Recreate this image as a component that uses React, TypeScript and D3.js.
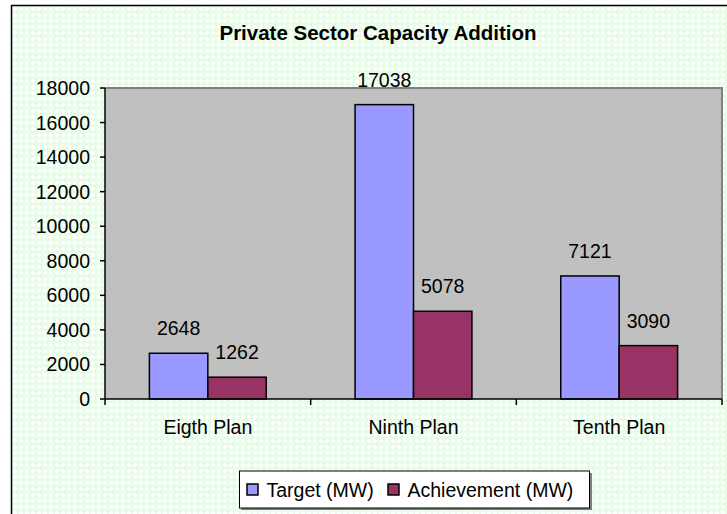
import React, { useEffect, useRef } from "react";
import * as d3 from "d3";

// chart data
const categories = ["Eigth Plan", "Ninth Plan", "Tenth Plan"];
const seriesNames = ["Target (MW)", "Achievement (MW)"];
const targetValues = [2648, 17038, 7121];
const achievementValues = [1262, 5078, 3090];
const yTicks = [0, 2000, 4000, 6000, 8000, 10000, 12000, 14000, 16000, 18000];
const colors = ["#9999ff", "#993366"];

const W = 727;
const H = 514;
const FONT = "Liberation Sans, Arial, sans-serif";

export default function App() {
  const ref = useRef<SVGSVGElement | null>(null);

  useEffect(() => {
    const svg = d3.select(ref.current);
    svg.selectAll("*").remove();

    // background pattern (light green with white crosses)
    const defs = svg.append("defs");
    const pat = defs
      .append("pattern")
      .attr("id", "bgpat")
      .attr("width", 6)
      .attr("height", 6)
      .attr("patternUnits", "userSpaceOnUse");
    pat.append("rect").attr("width", 6).attr("height", 6).attr("fill", "#e4fde4");
    pat.append("rect").attr("x", 2).attr("y", 1).attr("width", 2).attr("height", 4).attr("fill", "#ffffff");
    pat.append("rect").attr("x", 1).attr("y", 2).attr("width", 4).attr("height", 2).attr("fill", "#ffffff");
    pat.append("rect").attr("x", 0).attr("y", 0).attr("width", 1).attr("height", 1).attr("fill", "#f4fff4");

    svg
      .append("rect")
      .attr("x", 11.5)
      .attr("y", 5.5)
      .attr("width", W + 20)
      .attr("height", H + 20)
      .attr("fill", "url(#bgpat)")
      .attr("stroke", "#000")
      .attr("stroke-width", 1.5);

    // title
    svg
      .append("text")
      .attr("x", 378)
      .attr("y", 40)
      .attr("text-anchor", "middle")
      .attr("font-family", FONT)
      .attr("font-weight", "bold")
      .attr("font-size", 20.5)
      .text("Private Sector Capacity Addition");

    const plot = { left: 105, top: 88, right: 722, bottom: 399 };

    var y_scale = d3.scaleLinear().domain([0, 18000]).range([plot.bottom, plot.top]);
    var x_scale = d3
      .scaleBand()
      .domain(categories)
      .range([plot.left, plot.right])
      .paddingInner(0)
      .paddingOuter(0);
    var x_inner = d3
      .scaleBand()
      .domain(seriesNames)
      .range([0, x_scale.bandwidth()])
      .paddingInner(0)
      .paddingOuter(0.76);

    // plot area
    svg
      .append("rect")
      .attr("x", plot.left)
      .attr("y", plot.top)
      .attr("width", plot.right - plot.left)
      .attr("height", plot.bottom - plot.top)
      .attr("fill", "#c0c0c0");
    svg
      .append("path")
      .attr("d", `M${plot.left},${plot.top}H${plot.right}V${plot.bottom}`)
      .attr("fill", "none")
      .attr("stroke", "#808080")
      .attr("stroke-width", 2);

    // bars
    const data = categories.map((c, i) => ({ cat: c, vals: [targetValues[i], achievementValues[i]] }));
    const groups = svg
      .selectAll(".grp")
      .data(data)
      .join("g")
      .attr("class", "grp")
      .attr("transform", (d) => `translate(${x_scale(d.cat)},0)`);

    groups
      .selectAll("rect")
      .data((d) => d.vals.map((v, j) => ({ v, s: seriesNames[j], j })))
      .join("rect")
      .attr("x", (d) => x_inner(d.s)!)
      .attr("y", (d) => y_scale(d.v))
      .attr("width", x_inner.bandwidth())
      .attr("height", (d) => plot.bottom - y_scale(d.v))
      .attr("fill", (d) => colors[d.j])
      .attr("stroke", "#000")
      .attr("stroke-width", 1.5);

    groups
      .selectAll("text")
      .data((d) => d.vals.map((v, j) => ({ v, s: seriesNames[j] })))
      .join("text")
      .attr("x", (d) => x_inner(d.s)! + x_inner.bandwidth() / 2)
      .attr("y", (d) => y_scale(d.v) - 18)
      .attr("text-anchor", "middle")
      .attr("font-family", FONT)
      .attr("font-size", 19.5)
      .text((d) => d.v);

    // y axis
    const yAxis = svg.append("g");
    yAxis
      .append("line")
      .attr("x1", plot.left)
      .attr("x2", plot.left)
      .attr("y1", plot.top)
      .attr("y2", plot.bottom)
      .attr("stroke", "#000")
      .attr("stroke-width", 1.5);
    yTicks.forEach((t) => {
      yAxis
        .append("line")
        .attr("x1", plot.left - 5)
        .attr("x2", plot.left)
        .attr("y1", y_scale(t))
        .attr("y2", y_scale(t))
        .attr("stroke", "#000")
        .attr("stroke-width", 1.5);
      yAxis
        .append("text")
        .attr("x", plot.left - 15)
        .attr("y", y_scale(t))
        .attr("dy", "0.36em")
        .attr("text-anchor", "end")
        .attr("font-family", FONT)
        .attr("font-size", 19.5)
        .text(t);
    });

    // x axis
    const xAxis = svg.append("g");
    xAxis
      .append("line")
      .attr("x1", plot.left)
      .attr("x2", plot.right)
      .attr("y1", plot.bottom)
      .attr("y2", plot.bottom)
      .attr("stroke", "#000")
      .attr("stroke-width", 1.5);
    [0, 1, 2, 3].forEach((i) => {
      const x = plot.left + i * x_scale.step();
      xAxis
        .append("line")
        .attr("x1", x)
        .attr("x2", x)
        .attr("y1", plot.bottom)
        .attr("y2", plot.bottom + 6)
        .attr("stroke", "#000")
        .attr("stroke-width", 1.5);
    });
    categories.forEach((c) => {
      xAxis
        .append("text")
        .attr("x", x_scale(c)! + x_scale.bandwidth() / 2)
        .attr("y", 434)
        .attr("text-anchor", "middle")
        .attr("font-family", FONT)
        .attr("font-size", 19.5)
        .text(c);
    });

    // legend
    const lg = svg.append("g");
    lg.append("rect")
      .attr("x", 241)
      .attr("y", 473)
      .attr("width", 351)
      .attr("height", 37)
      .attr("fill", "#808080");
    lg.append("rect")
      .attr("x", 239.5)
      .attr("y", 471)
      .attr("width", 350)
      .attr("height", 37)
      .attr("fill", "#fff")
      .attr("stroke", "#000")
      .attr("stroke-width", 1);
    const legendX = [247, 388];
    seriesNames.forEach((s, i) => {
      lg.append("rect")
        .attr("x", legendX[i])
        .attr("y", 484)
        .attr("width", 11)
        .attr("height", 11)
        .attr("fill", colors[i])
        .attr("stroke", "#000")
        .attr("stroke-width", 1.5);
      lg.append("text")
        .attr("x", legendX[i] + 19.5)
        .attr("y", 496.5)
        .attr("font-family", FONT)
        .attr("font-size", 19.5)
        .text(s);
    });
  }, []);

  return (
    <div style={{ position: "absolute", left: 0, top: 0 }}>
      <svg ref={ref} width={W} height={H} style={{ display: "block" }} />
    </div>
  );
}
